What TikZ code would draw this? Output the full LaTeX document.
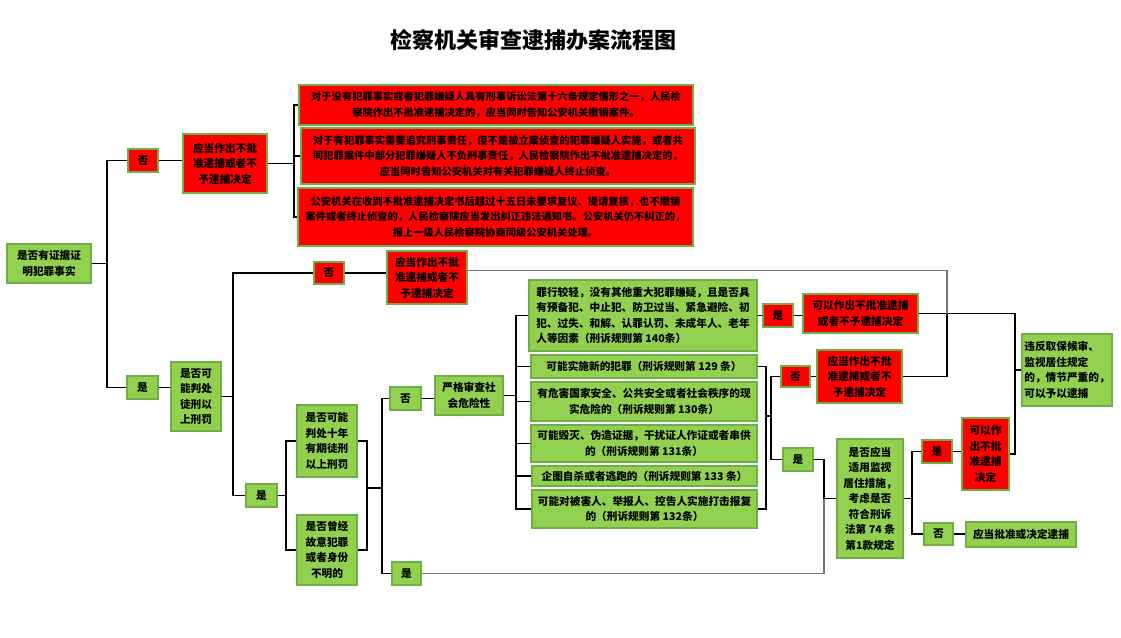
\documentclass[tikz,border=0pt]{standalone}
\usepackage{fontspec}
\setmainfont{Noto Sans CJK SC}
\usepackage{xcolor}
\usepackage{tikz}

\definecolor{fillgreen}{RGB}{146,208,80}
\definecolor{edgegreen}{RGB}{112,173,71}
\definecolor{fillred}{RGB}{255,0,0}

\tikzset{
  every node/.style={font=\bfseries\fontsize{8}{11.6}\selectfont, align=center, inner sep=1pt},
  greenbox/.style={draw=edgegreen, fill=fillgreen, line width=1pt},
  redbox/.style={draw=edgegreen, fill=fillred, line width=1pt},
  sz/.style 2 args={minimum width=#1*0.75pt, minimum height=#2*0.75pt},
  longtext/.style={font=\bfseries\fontsize{7.7}{11.6}\selectfont},
  link/.style={line width=0.9pt},
  greylink/.style={line width=0.9pt, black!55}
}

\begin{document}
\begin{tikzpicture}[x=0.75pt, y=-0.75pt]
      \useasboundingbox (0,0) rectangle (1121,637);

      % Title
      \node[font=\bfseries\fontsize{16.5}{20}\selectfont] (title) at (533,40) {检察机关审查逮捕办案流程图};

      % Root question
      \node[greenbox, sz={84}{39}] (root) at (49,263.5) {是否有证据证\\明犯罪事实};

      % No evidence: refuse and notify
      \node[redbox, sz={30}{23}] (no1) at (143,160.5) {否};
      \node[redbox, sz={84}{59}] (deny1) at (225,163.5) {应当作出不批\\准逮捕或者不\\予逮捕决定};
      \node[redbox, longtext, sz={394}{40}] (note1) at (496,105)
        {对于没有犯罪事实或者犯罪嫌疑人具有刑事诉讼法第十六条规定情形之一，人民检\\察院作出不批准逮捕决定的，应当同时告知公安机关撤销案件。};
      \node[redbox, longtext, sz={394}{56}] (note2) at (498,156)
        {对于有犯罪事实需要追究刑事责任，但不是被立案侦查的犯罪嫌疑人实施，或者共\\同犯罪案件中部分犯罪嫌疑人不负刑事责任，人民检察院作出不批准逮捕决定的，\\应当同时告知公安机关对有关犯罪嫌疑人终止侦查。};
      \node[redbox, longtext, sz={395}{58}] (note3) at (495.5,217)
        {公安机关在收到不批准逮捕决定书后超过十五日未要求复议、提请复核，也不撤销\\案件或者终止侦查的，人民检察院应当发出纠正违法通知书。公安机关仍不纠正的，\\报上一级人民检察院协商同级公安机关处理。};

      % Evidence present: possible sentence
      \node[greenbox, sz={31}{23}] (yes1) at (142.5,387.5) {是};
      \node[greenbox, sz={50}{69}] (prison) at (196,396.5) {是否可\\能判处\\徒刑以\\上刑罚};
      \node[redbox, sz={30}{22}] (no2) at (329,273) {否};
      \node[redbox, sz={80}{53}] (deny2) at (427,277.5) {应当作出不批\\准逮捕或者不\\予逮捕决定};
      \node[greenbox, sz={31}{23}] (yes2) at (261.5,495.5) {是};
      \node[greenbox, sz={60}{72}] (tenyr) at (327,441) {是否可能\\判处十年\\有期徒刑\\以上刑罚};
      \node[greenbox, sz={60}{70}] (record) at (327,550) {是否曾经\\故意犯罪\\或者身份\\不明的};
      \node[greenbox, sz={31}{23}] (no3) at (405.5,398.5) {否};
      \node[greenbox, sz={68}{39}] (risk) at (469,395.5) {严格审查社\\会危险性};
      \node[greenbox, sz={29}{23}] (yes3) at (406.5,573.5) {是};

      % Social danger criteria
      \node[greenbox, sz={228}{71}, align=left] (crA) at (643,315.5)
        {罪行较轻，没有其他重大犯罪嫌疑，且是否具\\有预备犯、中止犯、防卫过当、紧急避险、初\\犯、过失、和解、认罪认罚、未成年人、老年\\人等因素（刑诉规则第 140条）};
      \node[greenbox, sz={226}{23}] (crB) at (644,366.5) {可能实施新的犯罪（刑诉规则第 129 条）};
      \node[greenbox, sz={226}{39}] (crC) at (644,401.5) {有危害国家安全、公共安全或者社会秩序的现\\实危险的（刑诉规则第 130条）};
      \node[greenbox, sz={226}{37}] (crD) at (644,443.5) {可能毁灭、伪造证据，干扰证人作证或者串供\\的（刑诉规则第 131条）};
      \node[greenbox, sz={225}{20}] (crE) at (644.5,476) {企图自杀或者逃跑的（刑诉规则第 133 条）};
      \node[greenbox, sz={225}{38}] (crF) at (644.5,509) {可能对被害人、举报人、控告人实施打击报复\\的（刑诉规则第 132条）};

      % Outcomes
      \node[redbox, sz={30}{23}] (yes4) at (778,315.5) {是};
      \node[redbox, sz={115}{39}] (deny4) at (860.5,313.5) {可以作出不批准逮捕\\或者不予逮捕决定};
      \node[redbox, sz={29}{21}] (no4) at (795.5,376.5) {否};
      \node[redbox, sz={85}{53}] (deny5) at (859.5,376.5) {应当作出不批\\准逮捕或者不\\予逮捕决定};
      \node[greenbox, sz={30}{23}] (yes5) at (798,459.5) {是};
      \node[greenbox, sz={90}{72}, align=left] (breach) at (1067,370) {违反取保候审、\\监视居住规定\\的，情节严重的，\\可以予以逮捕};
      \node[greenbox, sz={66}{119}] (watch) at (870,498.5) {是否应当\\适用监视\\居住措施，\\考虑是否\\符合刑诉\\法第 74 条\\第1款规定};
      \node[redbox, sz={30}{23}] (yes6) at (937,451.5) {是};
      \node[redbox, sz={47}{72}] (deny6) at (985.5,454) {可以作\\出不批\\准逮捕\\决定};
      \node[greenbox, sz={29}{22}] (no6) at (938.5,534) {否};
      \node[greenbox, sz={110}{25}] (arrest) at (1021,534.5) {应当批准或决定逮捕};

      % Junction points
      \coordinate (b0) at (107,263.5);
      \coordinate (b1) at (294,163.5);
      \coordinate (b2) at (233,396.5);
      \coordinate (b3) at (286,495.5);
      \coordinate (b4) at (367,488);
      \coordinate (b4r) at (382,488);
      \coordinate (b6) at (516,395.5);
      \coordinate (b7) at (766,416);
      \coordinate (b7r) at (771,416);
      \coordinate (b8) at (824,498.5);
      \coordinate (b9) at (912,498.5);
      \coordinate (j1) at (947,313.5);
      \coordinate (b5) at (1015,370);

      % Connectors
      \begin{scope}[link]
        \draw (root.east) -- (b0);
        \draw (no1.west) -| (b0) |- (yes1.west);
        \draw (no1.east) -- (no1.east -| deny1.west);
        \draw (deny1.east) -- (b1);
        \draw (note1.west) -| (b1) |- (note3.west);
        \draw (note2.west) -- (note2.west -| b1);
        \draw (yes1.east) -- (yes1.east -| prison.west);
        \draw (prison.east) -- (b2);
        \draw (no2.west) -| (b2) |- (yes2.west);
        \draw (no2.east) -- (no2.east -| deny2.west);
        \draw (yes2.east) -- (b3);
        \draw (tenyr.west) -| (b3) |- (record.west);
        \draw (tenyr.east) -| (b4) |- (record.east);
        \draw (b4) -- (b4r);
        \draw (no3.west) -| (b4r) |- (yes3.west);
        \draw (no3.east) -- (no3.east -| risk.west);
        \draw (risk.east) -- (b6);
        \draw (crA.west) -| (b6) |- (crF.west);
        \foreach \c in {crB,crC,crD,crE} {
          \draw (\c.west) -- (\c.west -| b6);
        }
        \draw (crA.east) -- (crA.east -| yes4.west);
        \draw (yes4.east) -- (yes4.east -| deny4.west);
        \draw (crB.east) -| (b7) |- (crF.east);
        \draw (b7) -- (b7r);
        \draw (no4.west) -| (b7r) |- (yes5.west);
        \draw (no4.east) -- (no4.east -| deny5.west);
        \draw (yes5.east) -| (b8);
        \draw (b8) -- (watch.west);
        \draw (watch.east) -- (b9);
        \draw (yes6.west) -| (b9) |- (no6.west);
        \draw (yes6.east) -- (yes6.east -| deny6.west);
        \draw (no6.east) -- (no6.east -| arrest.west);
        \draw (deny5.east) -| (j1);
        \draw (deny4.east) -| (b5) |- (deny6.east);
        \draw (b5) -- (breach.west);
      \end{scope}
      \draw[greylink] ([yshift=5.25pt]deny2.east) -| (j1);
      \draw[greylink] (yes3.east) -| (b8);
    \end{tikzpicture}
\end{document}
